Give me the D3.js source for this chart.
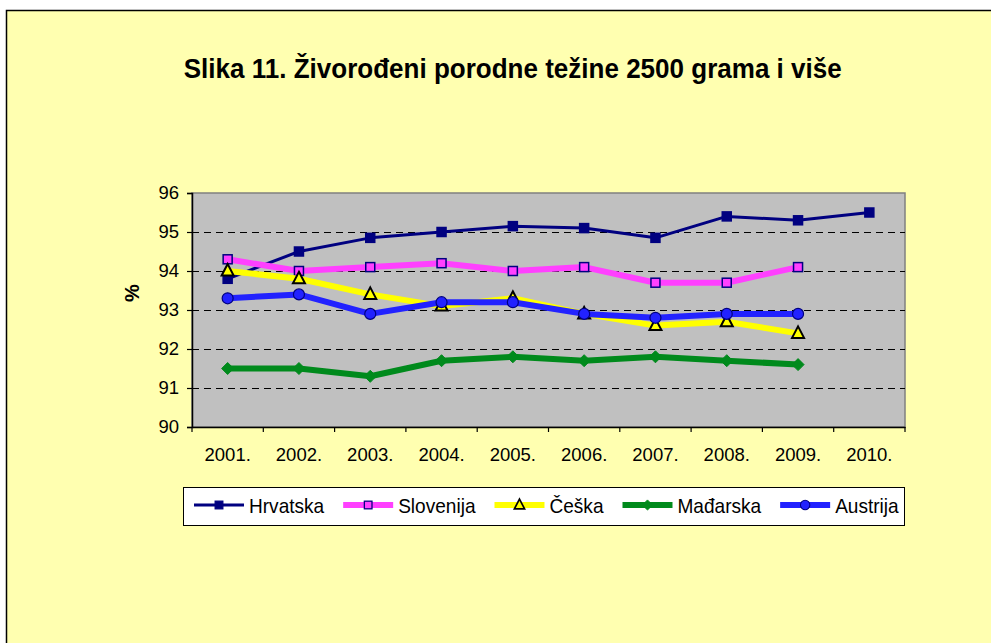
<!DOCTYPE html>
<html>
<head>
<meta charset="utf-8">
<script src="https://cdn.jsdelivr.net/npm/d3@7"></script>
<style>
  html, body { margin: 0; background: #fff; overflow: hidden; }
  svg { display: block; }
  text { font-family: "Liberation Sans", Arial, sans-serif; }
</style>
</head>
<body>
<script>
// data
const years = ["2001.", "2002.", "2003.", "2004.", "2005.", "2006.", "2007.", "2008.", "2009.", "2010."];
const hrvatska  = [93.8, 94.5, 94.85, 95.0, 95.15, 95.1, 94.85, 95.4, 95.3, 95.5];
const slovenija = [94.3, 94.0, 94.1, 94.2, 94.0, 94.1, 93.7, 93.7, 94.1];
const ceska     = [94.0, 93.8, 93.4, 93.1, 93.3, 92.9, 92.6, 92.7, 92.4];
const madarska  = [91.5, 91.5, 91.3, 91.7, 91.8, 91.7, 91.8, 91.7, 91.6];
const austrija  = [93.3, 93.4, 92.9, 93.2, 93.2, 92.9, 92.8, 92.9, 92.9];
const yTicks = [90, 91, 92, 93, 94, 95, 96];

const series = [
  {name: "Hrvatska",  values: hrvatska,  color: "#000080", width: 3, shape: "square", fill: "#000080", edge: "#000080"},
  {name: "Slovenija", values: slovenija, color: "#FF40FF", width: 6, shape: "square", fill: "#FF40FF", edge: "#000080"},
  {name: "Češka",     values: ceska,     color: "#FFFF00", width: 6, shape: "triangle", fill: "#FFFF00", edge: "#000000"},
  {name: "Mađarska",  values: madarska,  color: "#008A1C", width: 6, shape: "diamond", fill: "#008A1C", edge: "#008A1C"},
  {name: "Austrija",  values: austrija,  color: "#2222FF", width: 6, shape: "circle", fill: "#2222FF", edge: "#000080"}
];

const W = 991, H = 643;
const plot = {left: 192, right: 905, top: 193, bottom: 427};

const svg = d3.select("body").append("svg")
  .attr("width", W).attr("height", H);

// chart area (runs past the right/bottom edge of the picture): only top and left border show
svg.append("rect")
  .attr("x", 6.5).attr("y", 10.5)
  .attr("width", W).attr("height", H)
  .attr("fill", "#FFFFB0");
svg.append("path")
  .attr("d", `M6.5,${H}V10.5H${W}`)
  .attr("fill", "none")
  .attr("stroke", "#000").attr("stroke-width", 1.5);

svg.append("text")
  .attr("transform", "translate(512.7,78) scale(0.93,1)")
  .attr("text-anchor", "middle")
  .attr("font-size", 28).attr("font-weight", "bold")
  .text("Slika 11. Živorođeni porodne težine 2500 grama i više");

const x = d3.scaleBand().domain(years).range([plot.left, plot.right]);
const y = d3.scaleLinear().domain([90, 96]).range([plot.bottom, plot.top]);

// plot background
svg.append("rect")
  .attr("x", plot.left).attr("y", plot.top)
  .attr("width", plot.right - plot.left).attr("height", plot.bottom - plot.top)
  .attr("fill", "#C0C0C0")
  .attr("stroke", "#808080").attr("stroke-width", 1.5);

// gridlines
svg.append("g")
  .selectAll("line")
  .data(yTicks.slice(1, -1))
  .join("line")
  .attr("x1", plot.left).attr("x2", plot.right)
  .attr("y1", d => Math.round(y(d)) + 0.5).attr("y2", d => Math.round(y(d)) + 0.5)
  .attr("stroke", "#000").attr("stroke-width", 1)
  .attr("stroke-dasharray", "7,5");

// y axis
const yAxis = svg.append("g")
  .attr("transform", `translate(${plot.left},0)`)
  .call(d3.axisLeft(y).tickValues(yTicks).tickFormat(d3.format("d")).tickSize(5).tickPadding(8));
yAxis.select(".domain").attr("stroke-width", 1.5);
yAxis.selectAll(".tick line").attr("stroke-width", 1.2);
yAxis.selectAll("text")
  .attr("font-size", 18.5).attr("font-family", "Liberation Sans, Arial, sans-serif").attr("fill", "#000");

// x axis with ticks on category boundaries
const xAxis = svg.append("g")
  .attr("transform", `translate(0,${plot.bottom})`)
  .call(d3.axisBottom(x).tickSize(0).tickPadding(21));
xAxis.select(".domain").attr("stroke-width", 1.5);
xAxis.selectAll("text")
  .attr("font-size", 18.5).attr("font-family", "Liberation Sans, Arial, sans-serif").attr("fill", "#000");
xAxis.selectAll(".edge")
  .data(years.map(d => x(d)).concat([plot.right]))
  .join("line")
  .attr("class", "edge")
  .attr("x1", d => d).attr("x2", d => d)
  .attr("y1", 0).attr("y2", 5)
  .attr("stroke", "#000").attr("stroke-width", 1.2);

svg.append("text")
  .attr("transform", "translate(139,293) rotate(-90)")
  .attr("text-anchor", "middle")
  .attr("font-size", 20).attr("font-weight", "bold")
  .text("%");

function marker(g, shape, fill, edge) {
  if (shape === "square") {
    g.append("rect").attr("x", -4.5).attr("y", -4.5).attr("width", 9).attr("height", 9)
      .attr("fill", fill).attr("stroke", edge).attr("stroke-width", 1.5);
  } else if (shape === "triangle") {
    g.append("path").attr("d", "M0,-7L6,4.5L-6,4.5Z")
      .attr("fill", fill).attr("stroke", edge).attr("stroke-width", 2).attr("stroke-linejoin", "miter");
  } else if (shape === "diamond") {
    g.append("path").attr("d", "M0,-6L6,0L0,6L-6,0Z").attr("fill", fill).attr("stroke", edge);
  } else {
    g.append("circle").attr("r", 5.5).attr("fill", fill).attr("stroke", edge).attr("stroke-width", 1.2);
  }
}

const cx = (d, i) => x(years[i]) + x.bandwidth() / 2;
const line = d3.line().x(cx).y(d => y(d));

series.forEach(s => {
  const g = svg.append("g");
  g.append("path")
    .attr("d", line(s.values))
    .attr("fill", "none")
    .attr("stroke", s.color).attr("stroke-width", s.width)
    .attr("stroke-linejoin", "round");
  g.selectAll("g")
    .data(s.values)
    .join("g")
    .attr("transform", (d, i) => `translate(${cx(d, i)},${y(d)})`)
    .each(function() { marker(d3.select(this), s.shape, s.fill, s.edge); });
});

// legend
const leg = svg.append("g");
leg.append("rect")
  .attr("x", 183.5).attr("y", 487.5).attr("width", 721).attr("height", 38)
  .attr("fill", "#fff").attr("stroke", "#000").attr("stroke-width", 1);
let lx = 194;
series.forEach(s => {
  const item = leg.append("g").attr("transform", `translate(${lx},505)`);
  item.append("line").attr("x1", 0).attr("x2", 50)
    .attr("stroke", s.color).attr("stroke-width", s.width);
  const m = item.append("g").attr("transform", "translate(25,0) scale(0.85)");
  marker(m, s.shape, s.fill, s.edge);
  const t = item.append("text").attr("transform", "translate(55,7.5) scale(0.93,1)")
    .attr("font-size", 20.5).text(s.name);
  lx += 55 + t.node().getComputedTextLength() * 0.93 + 19;
});
</script>
</body>
</html>
